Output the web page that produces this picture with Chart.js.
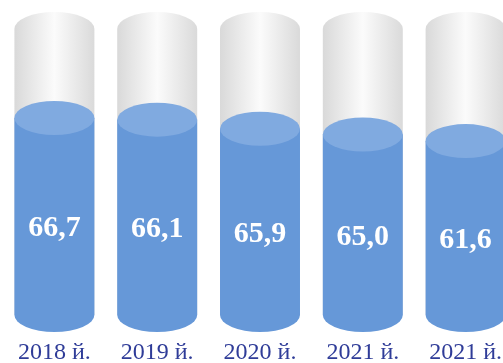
<!DOCTYPE html>
<html>
<head>
<meta charset="utf-8">
<script src="https://cdn.jsdelivr.net/npm/chart.js@4"></script>
<style>
  html, body { margin: 0; padding: 0; background: #fff; overflow: hidden; }
  #chart { display: block; }
</style>
</head>
<body>
<canvas id="chart" width="520" height="363"></canvas>
<script>
// data
const years = ["2018 й.", "2019 й.", "2020 й.", "2021 й.", "2021 й."];
const values = [66.7, 66.1, 65.9, 65.0, 61.6];       // printed on the bars
const fillLevels = [68.9, 68.3, 65.1, 63.1, 60.8];   // drawn height of blue, % of the gray tube
const tubeLevels = [100, 100, 100, 100, 100];

const BLUE = "#6698d8";
const BLUE_TOP = "#80aae0";
const RY = 17; // half height of the ellipses

function grayGradient(ctx, left, right) {
  const g = ctx.createLinearGradient(left, 0, right, 0);
  g.addColorStop(0, "#d9d9d9");
  g.addColorStop(0.5, "#fbfbfb");
  g.addColorStop(1, "#dadada");
  return g;
}

function ellipse(ctx, x, y, rx, ry, start, end) {
  ctx.beginPath();
  ctx.ellipse(x, y, rx, ry, 0, start, end);
  ctx.closePath();
  ctx.fill();
}

// turns the flat bars into cylinders
const cylinders = {
  id: "cylinders",
  beforeDatasetsDraw(chart) {
    const ctx = chart.ctx;
    const tube = chart.getDatasetMeta(1).data;
    ctx.save();
    tube.forEach(bar => {
      const left = bar.x - bar.width / 2;
      ctx.fillStyle = grayGradient(ctx, left, left + bar.width);
      ctx.fillRect(left, bar.y, bar.width, bar.base - bar.y);
      ellipse(ctx, bar.x, bar.y, bar.width / 2, RY, Math.PI, 2 * Math.PI);
    });
    ctx.restore();
  },
  afterDatasetsDraw(chart) {
    const ctx = chart.ctx;
    const fill = chart.getDatasetMeta(0).data;
    ctx.save();
    fill.forEach((bar, i) => {
      const rx = bar.width / 2;
      ctx.fillStyle = BLUE;
      ellipse(ctx, bar.x, bar.base, rx, RY, 0, Math.PI);
      ctx.fillStyle = BLUE_TOP;
      ellipse(ctx, bar.x, bar.y, rx, RY, 0, 2 * Math.PI);

      ctx.fillStyle = "#ffffff";
      ctx.font = "bold 30px 'Liberation Serif', 'Times New Roman', serif";
      ctx.textAlign = "center";
      ctx.textBaseline = "middle";
      const label = values[i].toFixed(1).replace(".", ",");
      ctx.fillText(label, bar.x, (bar.y + bar.base) / 2 + 12);
    });
    ctx.restore();
  }
};

new Chart(document.getElementById("chart"), {
  type: "bar",
  data: {
    labels: years,
    datasets: [
      {
        data: fillLevels,
        backgroundColor: BLUE,
        borderWidth: 0,
        grouped: false,
        barPercentage: 0.778,
        categoryPercentage: 1
      },
      {
        data: tubeLevels,
        backgroundColor: "rgba(0,0,0,0)",
        borderWidth: 0,
        grouped: false,
        barPercentage: 0.778,
        categoryPercentage: 1
      }
    ]
  },
  options: {
    responsive: false,
    animation: false,
    events: [],
    layout: { padding: { top: 29, left: 3, right: 3, bottom: 0 } },
    plugins: { legend: { display: false }, tooltip: { enabled: false } },
    scales: {
      x: {
        grid: { display: false, drawTicks: false },
        border: { display: false },
        ticks: {
          color: "#2f3c98",
          padding: 26,
          maxRotation: 0,
          autoSkip: false,
          font: { family: "'Liberation Serif', 'Times New Roman', serif", size: 24, lineHeight: 1 }
        },
        afterFit(scale) {
          scale.height = 48;
          scale.paddingLeft = 0;
          scale.paddingRight = 0;
        }
      },
      y: { display: false, min: 0, max: 100 }
    }
  },
  plugins: [cylinders]
});
</script>
</body>
</html>
